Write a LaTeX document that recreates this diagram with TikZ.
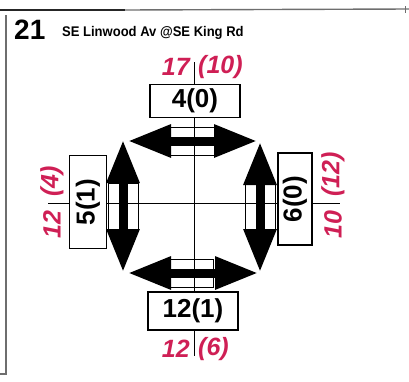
\documentclass[tikz,border=0pt]{standalone}
\usepackage{fontspec}
\setmainfont{Liberation Sans}
\usetikzlibrary{arrows.meta}
\definecolor{volRed}{HTML}{CF1F55}
\definecolor{frameGray}{HTML}{6E6E6E}

\begin{document}
\begin{tikzpicture}[x=1pt, y=-1pt,
  apbox/.style={draw, fill=white, line width=1.2pt, inner sep=0pt,
                font=\fontsize{26}{26}\selectfont\bfseries},
  vol/.style={text=volRed, inner sep=0pt, font=\fontsize{25}{25}\selectfont\bfseries\itshape},
  turnarr/.style={line width=9pt, {Triangle[length=43pt 0 0,width=31pt 0 0]}-{Triangle[length=43pt 0 0,width=31pt 0 0]}},
  midbox/.style={draw, fill=white, line width=0.8pt}]
  \useasboundingbox (0,0) rectangle (409,381);
  % ramka
  \draw[frameGray, line width=1.4pt] (125,10)--(409,9);
  \draw[black!85, line width=2pt] (0,10)--(125,10);
  \draw[frameGray, line width=1pt] (405,6)--(405,13);
  \draw[frameGray, line width=1.2pt] (6,15)--(6,374)--(0,374);
  % naglowek
  \node[anchor=base west, inner sep=0pt, font=\fontsize{28}{28}\selectfont\bfseries] (nr) at (14,39) {21};
  \node[anchor=base west, inner sep=0pt, xscale=0.93, font=\fontsize{14}{14}\selectfont\bfseries] (street) at (62,36) {SE Linwood Av @SE King Rd};
  % punkty strzalek
  \coordinate (tl) at (128,141); \coordinate (tr) at (257,141);
  \coordinate (bl) at (128,273); \coordinate (br) at (258,273);
  \coordinate (lt) at (123,140); \coordinate (lb) at (123,272);
  \coordinate (rt) at (260,142); \coordinate (rb) at (260,272);
  % strzalki
  \draw[midbox] (170,127) rectangle (216,155);
  \draw[midbox] (169,259) rectangle (213,287);
  \draw[midbox] (108,183) rectangle (138,229);
  \draw[midbox] (245,184) rectangle (275,230);
  \draw[turnarr] (tl)--(tr);
  \draw[turnarr] (bl)--(br);
  \draw[turnarr] (lt)--(lb);
  \draw[turnarr] (rt)--(rb);
  % osie
  \coordinate (vt) at (194,62); \coordinate (vb) at (194,356);
  \coordinate (hl) at (48,203); \coordinate (hr) at (340,203);
  \draw[line width=0.8pt] (vt)--(vb);
  \draw[line width=0.8pt] (hl)--(hr);
  % wloty
  \node[apbox, minimum width=90pt, minimum height=33pt] (boxN) at (195,101) {4(0)};
  \node[apbox, minimum width=93pt, minimum height=37pt, rotate=90] (boxW) at (88,202) {5(1)};
  \node[apbox, minimum width=92pt, minimum height=34pt, rotate=90] (boxE) at (295,199) {6(0)};
  \node[apbox, minimum width=90pt, minimum height=38pt] (boxS) at (193,311) {12(1)};
  % natezenia
  \node[vol, anchor=east] (volNa) at (190,67) {17};
  \node[vol, anchor=west] (volNb) at (198,67) {(10)};
  \node[vol, anchor=east] (volSa) at (190,349) {12};
  \node[vol, anchor=west] (volSb) at (198,349) {(6)};
  \node[vol, anchor=east, rotate=90] (volWa) at (52,210) {12};
  \node[vol, anchor=west, rotate=90] (volWb) at (52,197) {(4)};
  \node[vol, anchor=east, rotate=90] (volEa) at (333,210) {10};
  \node[vol, anchor=west, rotate=90] (volEb) at (333,197) {(12)};
\end{tikzpicture}
\end{document}
